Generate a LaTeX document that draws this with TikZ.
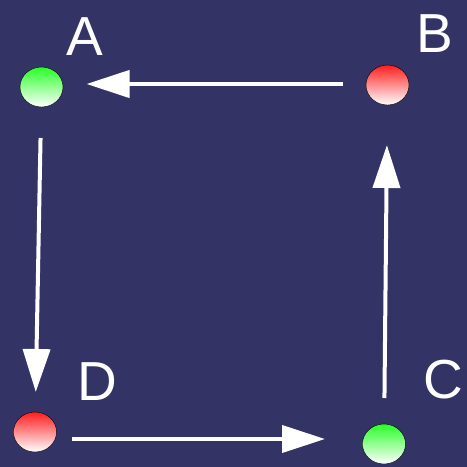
\documentclass[tikz,border=0pt]{standalone}
\usepackage{fontspec}
\setmainfont{Liberation Sans}
\usetikzlibrary{shapes.geometric, arrows.meta, positioning}
\definecolor{bgblue}{RGB}{51,51,102}
\definecolor{dotgreen}{RGB}{40,255,40}
\definecolor{dotred}{RGB}{255,30,30}
\tikzstyle{dot} = [ellipse, draw=black, thin, minimum width=43pt, minimum height=40pt, inner sep=0pt, bottom color=white]
\tikzstyle{letter} = [text=white, font=\fontsize{55}{66}\selectfont, inner sep=0pt]
\tikzstyle{arrow} = [white, line width=4pt, -{Triangle[length=43pt, width=27pt]}]

\begin{document}
\begin{tikzpicture}[x=1pt, y=-1pt]
    \fill[bgblue] (0,0) rectangle (467,467);
    \useasboundingbox (0,0) rectangle (467,467);

    \node (a) [dot, top color=dotgreen] at (41.5,87) {};
    \node (b) [dot, top color=dotred] at (387.5,85) {};
    \node (c) [dot, top color=dotgreen] at (384,444) {};
    \node (d) [dot, top color=dotred] at (35,432) {};

    \node (la) [letter] at (85,37) {A};
    \node (lb) [letter] at (435,34) {B};
    \node (lc) [letter] at (443,380) {C};
    \node (ld) [letter] at (97,382) {D};

    \draw [arrow, shorten <=45pt, shorten >=45pt] ([yshift=1pt]b.center) -- ([yshift=1pt]b.center -| a.center);
    \draw [arrow, shorten <=51pt, shorten >=40pt] (a.center) -- (d.center);
    \draw [arrow, shorten <=37pt, shorten >=59pt] ([yshift=-7pt]d.center) -- ([yshift=-7pt]d.center -| c.center);
    \draw [arrow, shorten <=46pt, shorten >=60pt] (c.center) -- (b.center);
  \end{tikzpicture}
\end{document}
